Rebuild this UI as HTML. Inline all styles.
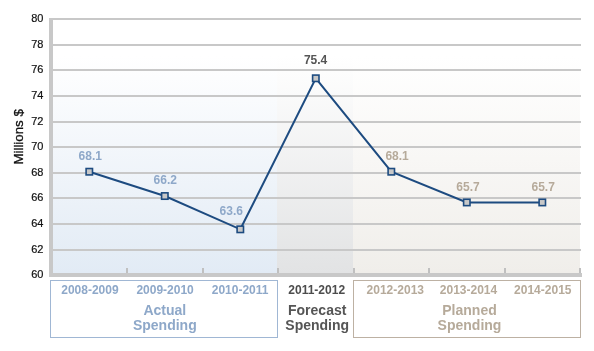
<!DOCTYPE html>
<html><head><meta charset="utf-8">
<style>
html,body{margin:0;padding:0;background:#fff;}
body{width:594px;height:351px;overflow:hidden;font-family:"Liberation Sans",sans-serif;}
svg{display:block;will-change:transform;}
</style></head>
<body>
<svg width="594" height="351" viewBox="0 0 594 351" font-family="Liberation Sans, sans-serif">
<defs>
<linearGradient id="gb" x1="0" y1="0" x2="0" y2="1">
<stop offset="0" stop-color="#ffffff"/><stop offset="0.15" stop-color="#ffffff"/><stop offset="1" stop-color="#e2ebf5"/>
</linearGradient>
<linearGradient id="gg" x1="0" y1="0" x2="0" y2="1">
<stop offset="0" stop-color="#ffffff"/><stop offset="0.15" stop-color="#ffffff"/><stop offset="1" stop-color="#e2e3e4"/>
</linearGradient>
<linearGradient id="gp" x1="0" y1="0" x2="0" y2="1">
<stop offset="0" stop-color="#ffffff"/><stop offset="0.15" stop-color="#ffffff"/><stop offset="1" stop-color="#f0eeea"/>
</linearGradient>
</defs>

<rect x="53" y="18" width="224" height="255" fill="url(#gb)"/>
<rect x="277" y="18" width="76" height="255" fill="url(#gg)"/>
<rect x="353" y="18" width="227" height="255" fill="url(#gp)"/>
<g fill="#c8c8c8">
<rect x="53" y="18" width="528" height="2"/>
<rect x="53" y="44" width="528" height="2"/>
<rect x="53" y="69" width="528" height="2"/>
<rect x="53" y="95" width="528" height="2"/>
<rect x="53" y="121" width="528" height="2"/>
<rect x="53" y="146" width="528" height="2"/>
<rect x="53" y="172" width="528" height="2"/>
<rect x="53" y="197" width="528" height="2"/>
<rect x="53" y="223" width="528" height="2"/>
<rect x="53" y="249" width="528" height="2"/>
</g>
<g fill="#c0c0c0">
<rect x="126" y="268" width="2" height="6"/>
<rect x="202" y="268" width="2" height="6"/>
<rect x="277" y="268" width="2" height="6"/>
<rect x="353" y="268" width="2" height="6"/>
<rect x="428" y="268" width="2" height="6"/>
<rect x="504" y="268" width="2" height="6"/>
<rect x="579" y="268" width="2" height="6"/>
</g>
<rect x="49" y="18" width="4" height="259" fill="#c8c8c8"/>
<rect x="49" y="273" width="533" height="4" fill="#c8c8c8"/>
<g font-size="11" fill="#111" stroke="#111" stroke-width="0.2" text-anchor="end">
<text x="43.5" y="21.50">80</text>
<text x="43.5" y="47.50">78</text>
<text x="43.5" y="72.50">76</text>
<text x="43.5" y="98.50">74</text>
<text x="43.5" y="124.50">72</text>
<text x="43.5" y="149.50">70</text>
<text x="43.5" y="175.50">68</text>
<text x="43.5" y="200.50">66</text>
<text x="43.5" y="226.50">64</text>
<text x="43.5" y="252.50">62</text>
<text x="43.5" y="277.50">60</text>
</g>
<text transform="translate(22.9,136.9) rotate(-90)" text-anchor="middle" font-size="13.3" fill="#111" stroke="#111" stroke-width="0.3">Millions $</text>
<polyline points="89.30,171.72 164.80,196.04 240.30,229.32 315.80,78.28 391.30,171.72 466.80,202.44 542.30,202.44" fill="none" stroke="#1d4b80" stroke-width="2" stroke-linejoin="miter"/>
<g fill="#c8c8c8" stroke="#1d4b80" stroke-width="1.6">
<rect x="86.10" y="168.52" width="6.4" height="6.4"/>
<rect x="161.60" y="192.84" width="6.4" height="6.4"/>
<rect x="237.10" y="226.12" width="6.4" height="6.4"/>
<rect x="312.60" y="75.08" width="6.4" height="6.4"/>
<rect x="388.10" y="168.52" width="6.4" height="6.4"/>
<rect x="463.60" y="199.24" width="6.4" height="6.4"/>
<rect x="539.10" y="199.24" width="6.4" height="6.4"/>
</g>
<g font-size="12" font-weight="bold" text-anchor="middle">
<text x="90.25" y="160.00" fill="#8ea8c9">68.1</text>
<text x="165.25" y="183.80" fill="#8ea8c9">66.2</text>
<text x="231.25" y="214.50" fill="#8ea8c9">63.6</text>
<text x="315.60" y="64.00" fill="#555555">75.4</text>
<text x="397.10" y="160.20" fill="#b6aa9a">68.1</text>
<text x="468.00" y="191.00" fill="#b6aa9a">65.7</text>
<text x="543.20" y="191.00" fill="#b6aa9a">65.7</text>
</g>
<rect x="50.5" y="280.5" width="227" height="57" fill="none" stroke="#a0b7d4" stroke-width="1"/>
<rect x="353.5" y="280.5" width="227" height="57" fill="none" stroke="#bdb1a3" stroke-width="1"/>
<g font-size="12" font-weight="bold" text-anchor="middle">
<text x="89.90" y="294" fill="#8ea8c9">2008-2009</text>
<text x="165.10" y="294" fill="#8ea8c9">2009-2010</text>
<text x="240.10" y="294" fill="#8ea8c9">2010-2011</text>
<text x="316.70" y="294" fill="#4d4d4d">2011-2012</text>
<text x="395.30" y="294" fill="#b6aa9a">2012-2013</text>
<text x="468.50" y="294" fill="#b6aa9a">2013-2014</text>
<text x="542.80" y="294" fill="#b6aa9a">2014-2015</text>
</g>
<g font-size="14" font-weight="bold" text-anchor="middle">
<text x="164.80" y="314.8" fill="#8ea8c9">Actual</text>
<text x="164.80" y="330.1" fill="#8ea8c9">Spending</text>
<text x="317.20" y="314.8" fill="#555555">Forecast</text>
<text x="317.20" y="330.1" fill="#555555">Spending</text>
<text x="469.50" y="314.8" fill="#b6aa9a">Planned</text>
<text x="469.50" y="330.1" fill="#b6aa9a">Spending</text>
</g>
</svg>
</body></html>
